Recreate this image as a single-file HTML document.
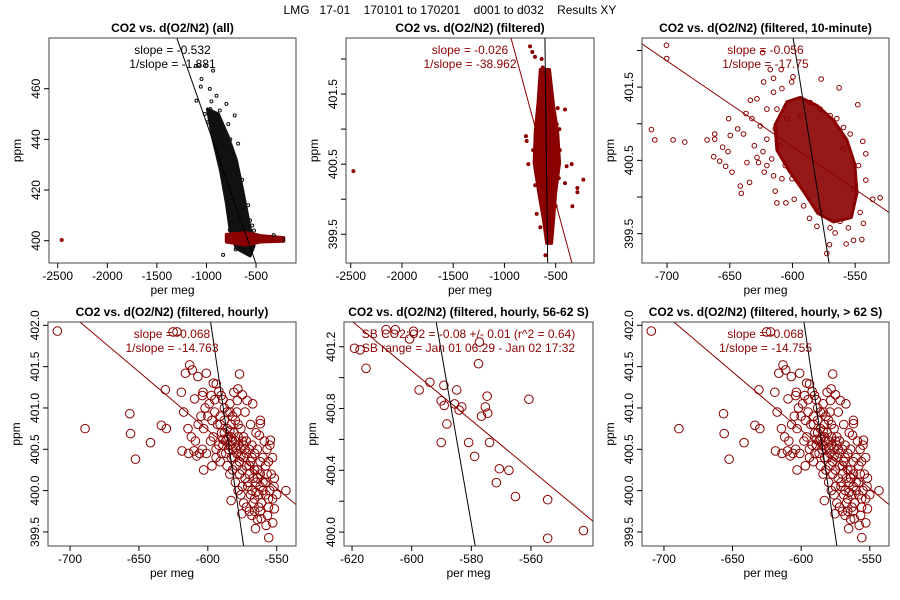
<!DOCTYPE html>
<html><head><meta charset="utf-8"><style>
html,body{margin:0;padding:0;background:#fff}
svg{display:block;font-family:"Liberation Sans",sans-serif}
</style></head><body>
<svg id="chart" width="900" height="600" viewBox="0 0 900 600" xmlns="http://www.w3.org/2000/svg">
<rect width="900" height="600" fill="#fff"/>
<text x="450" y="14" text-anchor="middle" font-size="12" fill="#000" xml:space="preserve">LMG   17-01    170101 to 170201    d001 to d032    Results XY</text>
</svg>
<script>
// ---------- data ----------
const p1Black = [[-1101,455.3],[-1057,460.8],[-933,467.1],[-1107,469.0],[-1077,469.4],[-1000,469.0],[-1050,463.8],[-966,459.9],[-899,457.2],[-799,454.0],[-715,449.4],[-681,438.3],[-866,451.4],[-1017,450.0],[-983,446.8],[-916,444.8],[-883,438.9],[-839,444.8],[-765,404.2],[-705,396.6],[-597,397],[-832,394.4],[-322,402.2],[-228,400.3],[-950,455],[-930,450],[-900,448],[-870,446],[-820,442],[-780,446],[-760,440],[-740,432],[-700,430],[-680,426],[-660,420],[-640,424],[-620,415],[-600,412],[-580,414],[-560,408],[-540,406],[-520,404],[-950,447],[-960,452],[-850,438],[-800,436],[-860,443]];
const p1Red = [[-2460,400.3],[-250,400.4],[-300,400.8],[-360,401.2]];
const p1Core = [[-990,452],[-880,450],[-780,441],[-700,432],[-650,423],[-600,413],[-560,405],[-520,398],[-560,394],[-700,397],[-760,404],[-800,415],[-860,428],[-940,441]];
const p1RedCore = [[-800,402.5],[-600,403.2],[-450,402],[-220,401.2],[-220,399.8],[-450,399.5],[-600,398.2],[-800,399.5]];
const p1Line = [[-1299,480],[-503,391.2]];

const p2Pts = [[-2474,400.40],[-750,402.18],[-728,402.10],[-702,402.03],[-637,402.00],[-627,401.88],[-409,401.28],[-393,400.47],[-344,400.50],[-230,400.28],[-288,400.16],[-288,400.10],[-337,399.90],[-783,400.83],[-790,400.9],[-490,401.07],[-464,401.00],[-523,400.66],[-685,399.79],[-409,400.23],[-767,400.50],[-460,400.7],[-470,400.3],[-700,400.2],[-720,400.7],[-480,401.3],[-680,401.1],[-500,399.9],[-650,399.6],[-600,399.2]];
const p2Core = [[-650,401.85],[-560,401.85],[-520,401.33],[-480,400.95],[-462,400.52],[-500,400.09],[-520,399.71],[-540,399.37],[-588,399.37],[-620,399.71],[-665,400.09],[-710,400.52],[-700,400.95],[-672,401.38]];
const p2Red = [[-936,402.30],[-341,399.09]];
const p2Black = [[-605,402.30],[-578,399.09]];

const p3Pts = [[-712.5,400.92],[-709.8,400.78],[-695.2,400.78],[-685.9,400.75],[-700.5,402.07],[-700.3,401.89],[-668.1,400.78],[-662.0,400.86],[-662.0,400.79],[-662.8,400.55],[-658.1,400.49],[-655.7,400.68],[-651.4,400.62],[-650.9,401.07],[-649.6,400.84],[-648.2,400.34],[-653.3,400.42],[-641.6,400.15],[-640.8,400.05],[-634.2,400.20],[-643.7,400.93],[-639.0,400.86],[-637.1,401.14],[-633.6,401.32],[-628.3,401.34],[-623.0,401.57],[-623.8,401.97],[-617.7,401.74],[-615.1,401.62],[-609.0,401.74],[-599.6,401.64],[-600.6,401.57],[-577.1,401.61],[-562.8,401.49],[-547.9,401.26],[-543.9,400.76],[-541.5,400.59],[-541.5,400.23],[-536.0,399.97],[-530.1,399.99],[-543.4,399.64],[-551.3,399.41],[-544.7,399.42],[-557.2,399.36],[-572.6,399.23],[-570.5,399.35],[-570.0,399.58],[-577.9,399.82],[-586.4,399.71],[-598.6,399.97],[-605.2,399.92],[-612.4,399.92],[-613.7,400.08],[-622.5,400.34],[-627.0,400.47],[-623.5,400.62],[-630.4,400.70],[-628.3,400.54],[-616.6,400.52],[-620.4,400.79],[-625.7,400.97],[-632.3,401.07],[-620.4,401.20],[-612.4,401.20],[-615.1,401.43],[-608.4,401.48],[-593.8,401.11],[-585.9,401.29],[-577.9,401.20],[-569.9,401.11],[-564.6,401.07],[-559.3,400.95],[-554.0,400.86],[-559.3,400.66],[-547.3,400.43],[-551.3,400.11],[-546.0,399.79],[-555.4,399.58],[-562.0,399.67],[-566.0,399.51],[-580.5,399.60],[-591.1,399.88],[-600.4,400.25],[-605.8,400.43],[-609.7,400.70],[-613.7,400.93],[-604.4,401.07],[-608.4,400.25],[-615.1,400.29],[-620.4,400.43],[-636.3,400.47]];
const p3Core = [[-614,400.98],[-604.4,401.3],[-593.8,401.36],[-580.5,401.25],[-567.3,401.05],[-556.6,400.78],[-550.3,400.45],[-548.5,400.06],[-553.0,399.72],[-567.3,399.66],[-579.9,399.78],[-590.5,400.06],[-602.8,400.36],[-612.4,400.64]];
const p3Red = [[-720,402.09],[-523,399.79]];
const p3Black = [[-599.5,402.17],[-570.8,399.1]];

const hourlyPts = [[-709.2,401.93],[-689.1,400.75],[-656.6,400.93],[-656.1,400.69],[-652.5,400.38],[-641.6,400.58],[-633.7,400.79],[-630.1,400.75],[-630.8,401.22],[-625.2,401.92],[-622.4,401.92],[-618.7,400.48],[-614.4,400.75],[-617.5,400.95],[-613.2,401.52],[-616.3,401.42],[-611.3,401.46],[-619.2,401.19],[-607.2,401.38],[-601.1,401.42],[-609.6,401.11],[-603.5,401.19],[-597.5,401.15],[-593.9,401.29],[-590.3,401.15],[-577.0,401.41],[-578.2,401.23],[-581.1,401.19],[-575.0,401.16],[-578.6,401.09],[-571.5,401.09],[-567.4,401.05],[-561.9,400.85],[-561.9,400.81],[-554.6,400.61],[-562.6,400.67],[-543.3,400.00],[-551.7,400.15],[-551.7,399.78],[-555.8,399.43],[-552.9,399.61],[-556.7,399.70],[-565.4,399.54],[-575.3,399.72],[-583.1,399.88],[-557.7,399.58],[-561.3,399.66],
[-600,400.9],[-597,400.85],[-595,400.95],[-593,400.8],[-591,400.9],[-590,400.7],[-588,400.85],[-587,400.6],[-586,400.75],[-585,400.65],[-584,400.55],[-583,400.8],[-582,400.5],[-581,400.7],[-580,400.6],[-579,400.45],[-578,400.55],[-577,400.35],[-576,400.5],[-575,400.25],[-574,400.4],[-573,400.15],[-572,400.3],[-571,400.05],[-570,400.2],[-569,400.35],[-568,400.0],[-567,400.15],[-566,399.9],[-565,400.1],[-564,400.25],[-563,399.95],[-562,400.05],[-561,399.85],[-560,400.1],[-558,399.95],[-557,400.2],[-556,399.8],[-555,400.0],[-553,399.9],
[-598,400.6],[-596,400.65],[-594,400.5],[-592,400.55],[-590,400.45],[-589,400.55],[-604,400.5],[-606,400.45],[-609,400.6],[-612,400.65],[-614,400.45],[-610,400.48],[-603,400.75],[-605,400.9],[-607,400.8],[-602,401.0],[-599,401.05],[-595,401.1],[-588,401.0],[-586,400.95],[-584,400.95],[-582,400.9],[-580,400.85],[-578,400.8],[-576,400.75],[-574,400.65],[-572,400.6],[-570,400.5],[-568,400.55],[-566,400.45],[-564,400.5],[-562,400.35],[-560,400.4],[-558,400.3],[-556,400.35],[-554,400.2],[-552,400.05],[-550,399.95],
[-586,400.3],[-584,400.2],[-582,400.25],[-580,400.1],[-578,400.0],[-576,399.95],[-574,399.85],[-572,399.8],[-570,399.75],[-568,399.7],[-566,399.75],[-564,399.65],[-562,399.75],[-575,400.05],[-579,400.3],[-583,400.4],[-587,400.45],[-591,400.35],[-594,400.4],[-597,400.3],[-601,400.45],[-603,400.25],[-608,400.42],[-592,401.2],[-596,401.3],[-589,401.1],[-604,401.15],[-584,401.05],[-579,400.95],[-573,400.95],[-569,400.8],[-565,400.7],[-559,400.6],[-557,400.5],[-553,400.4],[-555,400.55],
[-588,400.7],[-586,400.62],[-584,400.72],[-582,400.6],[-580,400.52],[-578,400.65],[-576,400.42],[-574,400.55],[-572,400.45],[-570,400.3],[-568,400.4],[-566,400.25],[-564,400.15],[-562,400.2],[-560,400.0],[-558,400.1],[-556,399.9],[-571,400.1],[-569,399.95],[-567,399.85],[-565,399.98],[-563,399.8],[-577,400.2],[-581,400.4],[-585,400.5],[-589,400.62],[-591,400.8],[-583,400.65],[-575,400.6],[-573,400.5]];
const p4Red = [[-692.8,402.04],[-536,399.83]];
const p4Black = [[-598,402.04],[-574,399.33]];

const p5Pts = [[-619.2,401.19],[-617.3,401.18],[-615.3,401.06],[-608.6,401.31],[-605.5,401.31],[-599.4,401.30],[-600.7,401.25],[-597.5,400.92],[-593.9,400.97],[-589.2,400.95],[-584.9,400.92],[-590.1,400.85],[-589.1,400.82],[-585.6,400.83],[-584.1,400.79],[-583.2,400.81],[-588.2,400.70],[-590.1,400.58],[-580.9,400.58],[-578.9,400.49],[-577.6,401.09],[-577.3,401.23],[-575.3,400.81],[-574.7,400.88],[-574.5,400.77],[-576.6,400.75],[-573.9,400.58],[-570.6,400.41],[-567.4,400.40],[-571.6,400.32],[-565.2,400.23],[-560.7,400.86],[-554.4,400.21],[-554.4,399.96],[-542.4,400.01]];
const p5Red = [[-619.7,401.36],[-539.2,400.07]];
const p5Black = [[-591.8,401.36],[-578.7,399.91]];

const xTicksWide = [-2500,-2000,-1500,-1000,-500];
const xTicksNarrow = [-700,-650,-600,-550];
const xTicksSB = [-620,-600,-580,-560];
const yTicksP1 = [400,420,440,460];
const yTicksFine = [399.5,400,400.5,401,401.5,402];
const yLabelsFine = [399.5,400.5,401.5];
const yLabelsHourly = [399.5,400,400.5,401,401.5,402];
const yTicksSB = [400.0,400.2,400.4,400.6,400.8,401.0,401.2];
const yLabelsSB = [400.0,400.4,400.8,401.2];

// ---------- drawing ----------
const NS = 'http://www.w3.org/2000/svg';
const svg = document.getElementById('chart');
const RED = '#8b0000';
function mk(tag, attrs, parent) {
  const e = document.createElementNS(NS, tag);
  for (const k in attrs) e.setAttribute(k, attrs[k]);
  (parent || svg).appendChild(e);
  return e;
}
function fmtTick(v, dec) { return dec ? v.toFixed(1) : String(v); }

function panel(c) {
  const g = mk('g', {});
  
  
  const sx = v => c.L + (v - c.xmin) / (c.xmax - c.xmin) * (c.R - c.L);
  const sy = v => c.B - (v - c.ymin) / (c.ymax - c.ymin) * (c.B - c.T);
  const cx = (c.L + c.R) / 2;
  const t = mk('text', {x: cx, y: c.T - 6, 'text-anchor': 'middle', 'font-size': 12, 'font-weight': 'bold'}, g);
  t.textContent = c.title;
  
  
  const clipId = 'clip-' + c.name;
  const cp = mk('clipPath', {id: clipId}, g);
  mk('rect', {x: c.L, y: c.T, width: c.R - c.L, height: c.B - c.T}, cp);
  const plot = mk('g', {'clip-path': 'url(#' + clipId + ')'}, g);
  
  
  (c.cores || []).forEach(cr => {
    const p = mk('polygon', {points: cr.pts.map(q => sx(q[0]) + ',' + sy(q[1])).join(' '), fill: cr.color, stroke: cr.color, 'stroke-width': 3, 'stroke-linejoin': 'round', 'fill-opacity': cr.op || 1}, plot);
    
    
  });
  (c.series || []).forEach(s => {
    s.pts.forEach(q => {
      const e = mk('circle', {cx: sx(q[0]), cy: sy(q[1]), r: s.r, fill: s.fill || 'none', stroke: s.color, 'stroke-width': s.sw || 1}, plot);
      
      
    });
  });
  (c.lines || []).forEach(l => {
    const e = mk('line', {x1: sx(l.pts[0][0]), y1: sy(l.pts[0][1]), x2: sx(l.pts[1][0]), y2: sy(l.pts[1][1]), stroke: l.color, 'stroke-width': 1}, plot);
    
    
  });
  const box = mk('rect', {x: c.L, y: c.T, width: c.R - c.L, height: c.B - c.T, fill: 'none', stroke: '#444', 'stroke-width': 1}, g);
  
  
  c.xt.forEach(v => {
    const x = sx(v);
    mk('line', {x1: x, y1: c.B, x2: x, y2: c.B + 5, stroke: '#000'}, g);
    const tl = mk('text', {x: x, y: c.B + 17, 'text-anchor': 'middle', 'font-size': 12}, g);
    tl.textContent = fmtTick(v, false);
    
    
  });
  c.yt.forEach(v => {
    const y = sy(v);
    mk('line', {x1: c.L - 5, y1: y, x2: c.L, y2: y, stroke: '#000'}, g);
  });
  c.yl.forEach(v => {
    const y = sy(v);
    const tl = mk('text', {x: c.L - 9, y: y, 'text-anchor': 'middle', 'font-size': 12, transform: 'rotate(-90 ' + (c.L - 9) + ' ' + y + ')'}, g);
    tl.textContent = fmtTick(v, c.ydec);
    
    
  });
  const xa = mk('text', {x: cx, y: c.B + 31, 'text-anchor': 'middle', 'font-size': 12}, g);
  xa.textContent = 'per meg';
  
  
  const ym = (c.T + c.B) / 2, yx = c.L - 28;
  const ya = mk('text', {x: yx, y: ym, 'text-anchor': 'middle', 'font-size': 12, transform: 'rotate(-90 ' + yx + ' ' + ym + ')'}, g);
  ya.textContent = 'ppm';
  
  
  c.notes.forEach((n, i) => {
    const a = mk('text', {x: cx, y: c.T + 16 + i * 14, 'text-anchor': 'middle', 'font-size': 12, fill: c.noteColor}, g);
    a.textContent = n;
    
    
  });
}

panel({name: 'panel-all', title: 'CO2 vs. d(O2/N2) (all)', L: 49, R: 296, T: 38, B: 263,
  xmin: -2588, xmax: -97, ymin: 391.2, ymax: 480, xt: xTicksWide, yt: yTicksP1, yl: yTicksP1, ydec: false,
  cores: [{pts: p1Core, color: '#111'}, {pts: p1RedCore, color: RED}],
  series: [{pts: p1Black, color: '#111', r: 1.5}, {pts: p1Red, color: RED, r: 1.5, fill: RED}],
  lines: [{pts: p1Line, color: '#000', name: 'fit-line'}],
  notes: ['slope = -0.532', '1/slope = -1.881'], noteColor: '#000'});

panel({name: 'panel-filtered', title: 'CO2 vs. d(O2/N2) (filtered)', L: 346, R: 594, T: 38, B: 263,
  xmin: -2546, xmax: -126, ymin: 399.09, ymax: 402.30, xt: xTicksWide, yt: yTicksFine, yl: yLabelsFine, ydec: true,
  cores: [{pts: p2Core, color: RED}],
  series: [{pts: p2Pts, color: RED, r: 1.5, fill: RED}],
  lines: [{pts: p2Red, color: RED, name: 'fit-line-red'}, {pts: p2Black, color: '#000', name: 'fit-line-black'}],
  notes: ['slope = -0.026', '1/slope = -38.962'], noteColor: RED});

panel({name: 'panel-10-minute', title: 'CO2 vs. d(O2/N2) (filtered, 10-minute)', L: 642, R: 889, T: 38, B: 263,
  xmin: -720, xmax: -523, ymin: 399.1, ymax: 402.17, xt: xTicksNarrow, yt: yTicksFine, yl: yLabelsFine, ydec: true,
  cores: [{pts: p3Core, color: RED, op: 0.9}],
  series: [{pts: p3Pts, color: RED, r: 2.3}],
  lines: [{pts: p3Red, color: RED, name: 'fit-line-red'}, {pts: p3Black, color: '#000', name: 'fit-line-black'}],
  notes: ['slope = -0.056', '1/slope = -17.75'], noteColor: RED});

panel({name: 'panel-hourly', title: 'CO2 vs. d(O2/N2) (filtered, hourly)', L: 48, R: 296, T: 322, B: 546,
  xmin: -716, xmax: -536, ymin: 399.33, ymax: 402.04, xt: xTicksNarrow, yt: yTicksFine, yl: yLabelsHourly, ydec: true,
  series: [{pts: hourlyPts, color: RED, r: 4.3}],
  lines: [{pts: p4Red, color: RED, name: 'fit-line-red'}, {pts: p4Black, color: '#000', name: 'fit-line-black'}],
  notes: ['slope = -0.068', '1/slope = -14.763'], noteColor: RED});

panel({name: 'panel-hourly-56-62s', title: 'CO2 vs. d(O2/N2) (filtered, hourly, 56-62 S)', L: 344, R: 593, T: 322, B: 546,
  xmin: -622.7, xmax: -539.2, ymin: 399.91, ymax: 401.36, xt: xTicksSB, yt: yTicksSB, yl: yLabelsSB, ydec: true,
  series: [{pts: p5Pts, color: RED, r: 4.3}],
  lines: [{pts: p5Red, color: RED, name: 'fit-line-red'}, {pts: p5Black, color: '#000', name: 'fit-line-black'}],
  notes: ['SB CO2:O2 = -0.08 +/- 0.01 (r^2 = 0.64)', 'SB range = Jan 01 06:29 - Jan 02 17:32'], noteColor: RED});

panel({name: 'panel-hourly-over-62s', title: 'CO2 vs. d(O2/N2) (filtered, hourly, > 62 S)', L: 642, R: 889, T: 322, B: 546,
  xmin: -716, xmax: -536, ymin: 399.33, ymax: 402.04, xt: xTicksNarrow, yt: yTicksFine, yl: yLabelsHourly, ydec: true,
  series: [{pts: hourlyPts, color: RED, r: 4.3}],
  lines: [{pts: p4Red, color: RED, name: 'fit-line-red'}, {pts: p4Black, color: '#000', name: 'fit-line-black'}],
  notes: ['slope = -0.068', '1/slope = -14.755'], noteColor: RED});
</script>
</body></html>
